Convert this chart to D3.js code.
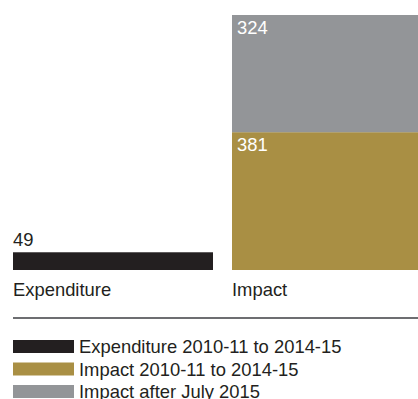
<!DOCTYPE html>
<html>
<head>
<meta charset="utf-8">
<script src="https://cdn.jsdelivr.net/npm/d3@7"></script>
<style>
  body { margin: 0; background: #fff; }
  svg { display: block; font-family: "Liberation Sans", Arial, Helvetica, sans-serif; }
</style>
</head>
<body>
<svg id="chart" width="418" height="399"></svg>
<script>
// data
var categories = ["Expenditure", "Impact"];
var seriesKeys = ["exp", "imp1", "imp2"];
var seriesNames = ["Expenditure 2010-11 to 2014-15", "Impact 2010-11 to 2014-15", "Impact after July 2015"];
var expValues = [49, 0];
var impactValues = [0, 381];
var impactAfterValues = [0, 324];
var colors = ["#231f20", "#a98f44", "#939598"];

var fontSize = 18.4;

var rows = categories.map(function (c, i) {
    return { cat: c, exp: expValues[i], imp1: impactValues[i], imp2: impactAfterValues[i] };
});

var svg = d3.select("#chart");

var x = d3.scaleBand()
    .domain(categories)
    .range([13, 432])
    .paddingInner(19 / 219)
    .paddingOuter(0);

var y = d3.scaleLinear()
    .domain([0, 705])
    .range([270, 15]);

var color = d3.scaleOrdinal().domain(seriesKeys).range(colors);

var stacked = d3.stack().keys(seriesKeys)(rows);

var layers = svg.append("g").selectAll("g")
    .data(stacked)
    .enter().append("g")
    .attr("fill", function (d) { return color(d.key); });

layers.selectAll("rect")
    .data(function (d) { return d.filter(function (p) { return p[1] - p[0] > 0; }); })
    .enter().append("rect")
    .attr("x", function (d) { return x(d.data.cat); })
    .attr("y", function (d) { return y(d[1]); })
    .attr("width", x.bandwidth())
    .attr("height", function (d) { return y(d[0]) - y(d[1]); });

// value labels: expenditure above the bar, impact inside top-left in white
layers.each(function (layer) {
    d3.select(this).selectAll("text")
        .data(layer.filter(function (p) { return p[1] - p[0] > 0; }))
        .enter().append("text")
        .attr("font-size", fontSize)
        .attr("x", function (d) { return x(d.data.cat) + (layer.key == "exp" ? 0 : 5); })
        .attr("y", function (d) { return layer.key == "exp" ? y(d[1]) - 6 : y(d[1]) + 19; })
        .attr("fill", layer.key == "exp" ? "#231f20" : "#fff")
        .text(function (d) { return d[1] - d[0]; });
});

// category labels
svg.append("g").selectAll("text")
    .data(categories)
    .enter().append("text")
    .attr("x", function (d) { return x(d); })
    .attr("y", 296)
    .attr("font-size", fontSize)
    .attr("fill", "#231f20")
    .text(function (d) { return d; });

// divider
svg.append("line")
    .attr("x1", 13).attr("x2", 418)
    .attr("y1", 318).attr("y2", 318)
    .attr("stroke", "#6d6e71")
    .attr("stroke-width", 2);

// legend
var legend = svg.append("g").selectAll("g")
    .data(seriesKeys)
    .enter().append("g")
    .attr("transform", function (d, i) { return "translate(13," + (340 + i * 22.5) + ")"; });

legend.append("rect")
    .attr("width", 61)
    .attr("height", 13)
    .attr("fill", function (d) { return color(d); });

legend.append("text")
    .attr("x", 66)
    .attr("y", 13)
    .attr("font-size", fontSize)
    .attr("fill", "#231f20")
    .text(function (d, i) { return seriesNames[i]; });
</script>
</body>
</html>
